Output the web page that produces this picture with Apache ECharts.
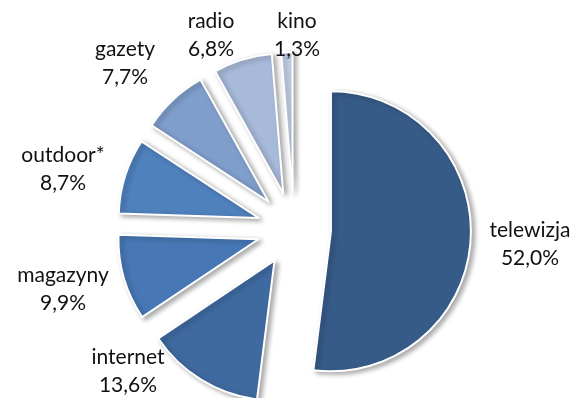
<!DOCTYPE html>
<html>
<head>
<meta charset="utf-8">
<script src="https://cdn.jsdelivr.net/npm/echarts@6/dist/echarts.min.js"></script>
<style>
html,body{margin:0;padding:0;background:#fff;}
#c{width:574px;height:398px;}
</style>
</head>
<body>
<div id="c"></div>
<script>
// Data
const categories = ['telewizja', 'internet', 'magazyny', 'outdoor*', 'gazety', 'radio', 'kino'];
const shares = [52.0, 13.6, 9.9, 8.7, 7.7, 6.8, 1.3];

// Styles / layout (not data)
const sliceColors = ['#375B88', '#3F6AA0', '#4778B5', '#4F81BD', '#7F9ECB', '#A8BADA', '#C3D0E6'];
const labelAnchors = [[530, 244], [128, 371], [63, 289], [63, 169], [125, 63], [211, 35], [297, 35]];

const chart = echarts.init(document.getElementById('c'), null, {renderer: 'canvas'});
const fmt = v => v.toFixed(1).replace('.', ',') + '%';

const common = {
  type: 'pie',
  center: [294, 229],
  radius: [0, 140],
  startAngle: 90,
  clockwise: true,
  avoidLabelOverlap: false,
  emphasis: {disabled: true}
};

chart.setOption({
  animation: false,
  backgroundColor: '#ffffff',
  series: [
    Object.assign({}, common, {
      name: 'slices',
      selectedMode: 'multiple',
      selectedOffset: 37,
      itemStyle: {
        borderColor: '#ffffff',
        borderWidth: 2,
        shadowBlur: 5,
        shadowColor: 'rgba(0,0,0,0.33)',
        shadowOffsetX: 3,
        shadowOffsetY: 2
      },
      select: {itemStyle: {borderColor: '#ffffff', borderWidth: 2}},
      label: {show: false},
      labelLine: {show: false},
      data: categories.map((n, i) => ({
        name: n,
        value: shares[i],
        selected: true,
        itemStyle: {color: sliceColors[i]},
        select: {itemStyle: {color: sliceColors[i]}}
      }))
    }),
    Object.assign({}, common, {
      name: 'labels',
      silent: true,
      selectedMode: false,
      itemStyle: {color: 'rgba(0,0,0,0)', borderWidth: 0},
      label: {
        show: true,
        position: 'outside',
        fontFamily: 'Lato',
        fontSize: 21,
        lineHeight: 28,
        color: '#111111',
        formatter: p => p.name + '\n' + fmt(p.value)
      },
      labelLine: {show: false},
      labelLayout: function (params) {
        const a = labelAnchors[params.dataIndex];
        return {x: a[0], y: a[1], align: 'center', verticalAlign: 'middle'};
      },
      data: categories.map((n, i) => ({name: n, value: shares[i]}))
    })
  ]
});
</script>
</body>
</html>
